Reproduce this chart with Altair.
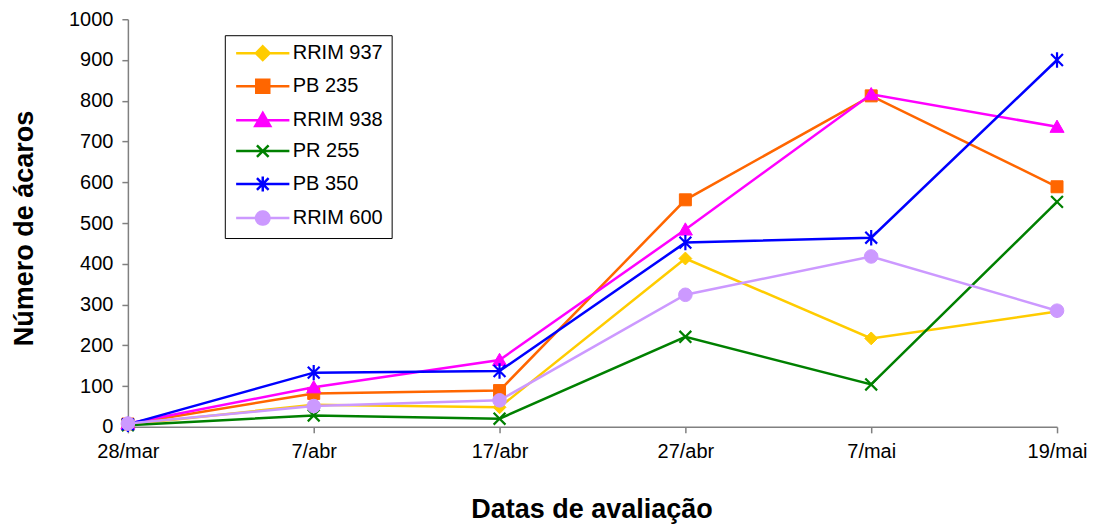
import altair as alt
import pandas as pd

dates = ["28/mar", "7/abr", "17/abr", "27/abr", "7/mai", "19/mai"]
clones = ["RRIM 937", "PB 235", "RRIM 938", "PR 255", "PB 350", "RRIM 600"]
rrim937 = [6, 54, 48, 413, 217, 283]
pb235 = [7, 82, 89, 557, 812, 589]
rrim938 = [8, 97, 164, 484, 816, 736]
pr255 = [4, 28, 20, 221, 104, 552]
pb350 = [6, 133, 137, 452, 464, 900]
rrim600 = [8, 51, 65, 324, 418, 285]
colors = ["#FFCC00", "#FF6600", "#FF00FF", "#008000", "#0000FF", "#CC99FF"]
y_ticks = [0, 100, 200, 300, 400, 500, 600, 700, 800, 900, 1000]

series = [rrim937, pb235, rrim938, pr255, pb350, rrim600]
rows = []
for c, vals in zip(clones, series):
    for d, v in zip(dates, vals):
        rows.append({"Data": d, "Clone": c, "Valor": v})
df = pd.DataFrame(rows)

CIRC = "C1,0.5523,0.5523,1,0,1C-0.5523,1,-1,0.5523,-1,0C-1,-0.5523,-0.5523,-1,0,-1C0.5523,-1,1,-0.5523,1,0Z"
# marker styles: (shape path, size, strokeWidth)
markers = [
    ("M0,-1.05L1.05,0L0,1.05L-1.05,0Z", 150, 1),
    ("M-1,-1H1V1H-1Z", 144, 1),
    ("M0,-1.1L1.15,0.9H-1.15Z", 150, 1),
    ("M-1,-1L1,1M-1,1L1,-1", 140, 2.2),
    ("M-1,-1L1,1M-1,1L1,-1M0,-1.3V1.3", 140, 2.2),
    ("circle", 185, 1),
]
LINE = "M-4.1,0H4.1"
legend_paths = [
    LINE + "M0,-1.05L1.05,0L0,1.05L-1.05,0Z",
    LINE + "M-1,-1H1V1H-1Z",
    LINE + "M0,-1.1L1.15,0.9H-1.15Z",
    LINE + "M-0.9,-0.9L0.9,0.9M-0.9,0.9L0.9,-0.9",
    LINE + "M-0.9,-0.9L0.9,0.9M-0.9,0.9L0.9,-0.9M0,-1.15V1.15",
    LINE + "M1.05,0" + CIRC.replace("1,", "1.05,"),
]

FONT = "Liberation Sans"
AX = "#808080"

x = alt.X(
    "Data:O",
    sort=dates,
    scale=alt.Scale(type="point", padding=0, domain=dates),
    axis=alt.Axis(
        title="Datas de avaliação",
        labelAngle=0,
        labelFont=FONT,
        labelFontSize=20,
        labelColor="black",
        labelPadding=9,
        tickSize=6,
        tickColor=AX,
        tickWidth=1.5,
        domainColor=AX,
        domainWidth=1.5,
        grid=False,
        titleFont=FONT,
        titleFontSize=27,
        titleFontWeight="bold",
        titleColor="black",
        titleX=464,
        titleY=91,
        titleBaseline="alphabetic",
        titleAlign="center",
    ),
)
y = alt.Y(
    "Valor:Q",
    scale=alt.Scale(domain=[0, 1000], nice=False),
    axis=alt.Axis(
        title="Número de ácaros",
        values=y_ticks,
        format="d",
        labelFont=FONT,
        labelFontSize=20,
        labelColor="black",
        labelPadding=9,
        tickSize=6,
        tickColor=AX,
        tickWidth=1.5,
        domainColor=AX,
        domainWidth=1.5,
        grid=False,
        titleFont=FONT,
        titleFontSize=27,
        titleFontWeight="bold",
        titleColor="black",
        titleAngle=-90,
        titleX=-95,
        titleY=209,
        titleBaseline="alphabetic",
        titleAlign="center",
    ),
)

base = alt.Chart(df)
layers = []
for c, col, (shp, sz, sw) in zip(clones, colors, markers):
    sub = base.transform_filter(alt.datum.Clone == c)
    layers.append(sub.mark_line(color=col, strokeWidth=2.5).encode(x=x, y=y))
    layers.append(
        sub.mark_point(
            shape=shp, size=sz, filled=True, fill=col, stroke=col,
            strokeWidth=sw, opacity=1,
        ).encode(x=x, y=y)
    )

leg = alt.Legend(
    title=None,
    orient="none",
    legendX=97,
    legendY=16,
    direction="vertical",
    labelFont=FONT,
    labelFontSize=20,
    labelColor="black",
    symbolSize=169,
    symbolStrokeWidth=2.5,
    symbolOffset=20,
    labelOffset=20,
    rowPadding=9,
    padding=8,
    strokeColor="black",
    fillColor="white",
    cornerRadius=0,
)
legend_layer = base.transform_filter("false").mark_point(filled=True, opacity=1).encode(
    x=x,
    y=y,
    color=alt.Color("Clone:N", scale=alt.Scale(domain=clones, range=colors), legend=leg),
    stroke=alt.Stroke("Clone:N", scale=alt.Scale(domain=clones, range=colors), legend=leg),
    shape=alt.Shape("Clone:N", scale=alt.Scale(domain=clones, range=legend_paths), legend=leg),
)

chart = (
    alt.layer(*layers, legend_layer)
    .properties(
        width=930,
        height=408,
        autosize=alt.AutoSizeParams(type="none"),
        padding={"left": 120, "top": 11, "right": 30, "bottom": 100},
        background="white",
    )
    .configure_view(stroke=None)
)

chart.save("out.html", embed_options={"renderer": "svg", "actions": False})
